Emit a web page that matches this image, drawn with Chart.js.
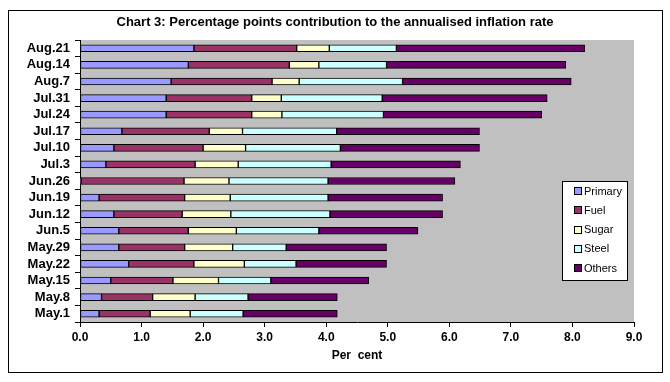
<!DOCTYPE html>
<html>
<head>
<meta charset="utf-8">
<script src="https://cdn.jsdelivr.net/npm/chart.js@4/dist/chart.umd.min.js"></script>
<style>
html, body { margin: 0; padding: 0; background: #fff; }
#wrap { width: 670px; height: 382px; }
</style>
</head>
<body>
<div id="wrap"><canvas id="chart-area-1" width="670" height="382"></canvas></div>
<script>
// weeks, oldest first (drawn from the bottom up)
var weeks = ['May.1', 'May.8', 'May.15', 'May.22', 'May.29', 'Jun.5', 'Jun.12', 'Jun.19', 'Jun.26',
	'Jul.3', 'Jul.10', 'Jul.17', 'Jul.24', 'Jul.31', 'Aug.7', 'Aug.14', 'Aug.21'];

var primary = [0.31, 0.35, 0.50, 0.79, 0.63, 0.63, 0.55, 0.31, 0.02, 0.42, 0.55, 0.68, 1.40, 1.40, 1.48, 1.76, 1.85];
var fuel    = [0.83, 0.83, 1.01, 1.06, 1.07, 1.13, 1.11, 1.39, 1.67, 1.45, 1.45, 1.42, 1.39, 1.39, 1.64, 1.64, 1.67];
var sugar   = [0.65, 0.69, 0.74, 0.82, 0.78, 0.78, 0.79, 0.74, 0.73, 0.70, 0.69, 0.54, 0.49, 0.48, 0.44, 0.48, 0.53];
var steel   = [0.86, 0.86, 0.85, 0.84, 0.87, 1.34, 1.61, 1.59, 1.61, 1.51, 1.54, 1.53, 1.65, 1.64, 1.68, 1.10, 1.09];
var others  = [1.53, 1.45, 1.59, 1.47, 1.63, 1.61, 1.83, 1.86, 2.06, 2.10, 2.26, 2.32, 2.57, 2.68, 2.74, 2.91, 3.06];

var seriesNames = ['Primary', 'Fuel', 'Sugar', 'Steel', 'Others'];
var seriesColors = ['#9999FF', '#993366', '#FFFFCC', '#CCFFFF', '#660066'];
var xTicks = [0, 1, 2, 3, 4, 5, 6, 7, 8, 9];

var narrow = "'Liberation Sans Narrow', 'Arial Narrow', 'Liberation Sans', Arial, sans-serif";
var plain = "'Liberation Sans', Arial, sans-serif";

var frame = {
	id: 'frame',
	beforeDraw: function(chart) {
		var ctx = chart.ctx, a = chart.chartArea;
		ctx.save();
		ctx.fillStyle = '#ffffff';
		ctx.fillRect(0, 0, chart.width, chart.height);
		ctx.fillStyle = '#C0C0C0';
		ctx.fillRect(a.left, a.top, a.right - a.left, a.bottom - a.top);
		ctx.restore();
	},
	afterDraw: function(chart) {
		var ctx = chart.ctx;
		ctx.save();
		// outer border
		ctx.strokeStyle = '#000';
		ctx.lineWidth = 1;
		ctx.strokeRect(8.5, 10.5, 654, 362);
		// title
		ctx.fillStyle = '#000';
		ctx.font = 'bold 13px ' + narrow;
		ctx.textAlign = 'center';
		ctx.textBaseline = 'middle';
		ctx.fillText('Chart 3: Percentage points contribution to the annualised inflation rate', 335, 22);
		// legend
		ctx.fillStyle = '#fff';
		ctx.fillRect(562.5, 181.5, 65, 99);
		ctx.strokeRect(562.5, 181.5, 65, 99);
		ctx.font = '11px ' + plain;
		ctx.textAlign = 'left';
		for (var i = 0; i < seriesNames.length; i++) {
			var y = 191 + i * 19.3;
			ctx.fillStyle = seriesColors[i];
			ctx.fillRect(574.5, Math.round(y) - 3.5, 7, 7);
			ctx.strokeRect(574.5, Math.round(y) - 3.5, 7, 7);
			ctx.fillStyle = '#000';
			ctx.fillText(seriesNames[i], 584, y + 0.5);
		}
		ctx.restore();
	}
};

var series = [primary, fuel, sugar, steel, others];
var datasets = [];
for (var i = 0; i < series.length; i++) {
	datasets.push({
		label: seriesNames[i],
		data: series[i],
		backgroundColor: seriesColors[i],
		borderColor: '#000000',
		borderWidth: 1,
		borderSkipped: false,
		barThickness: 7
	});
}

var ctx = document.getElementById('chart-area-1').getContext('2d');
window.myBar = new Chart(ctx, {
	type: 'bar',
	data: { labels: weeks, datasets: datasets },
	plugins: [frame],
	options: {
		indexAxis: 'y',
		responsive: false,
		animation: false,
		layout: { padding: { top: 40, right: 36, left: 0, bottom: 0 } },
		plugins: {
			legend: { display: false },
			title: { display: false },
			tooltip: { enabled: false }
		},
		scales: {
			x: {
				stacked: true,
				min: 0,
				max: 9,
				afterFit: function(s) { s.height = 60; },
				afterBuildTicks: function(s) { s.ticks = xTicks.map(function(v) { return { value: v }; }); },
				grid: { drawOnChartArea: false, drawTicks: true, tickLength: 5, color: '#000' },
				border: { display: true, color: '#000' },
				ticks: {
					padding: 3,
					color: '#000',
					font: { family: narrow, size: 12, weight: 'bold' },
					callback: function(v) { return Number(v).toFixed(1); }
				},
				title: {
					display: true,
					text: 'Per  cent',
					color: '#000',
					padding: { top: 0, bottom: 19 },
					font: { family: plain, size: 12, weight: 'bold' }
				}
			},
			y: {
				stacked: true,
				reverse: true,
				afterFit: function(s) { s.width = 80; },
				grid: { drawOnChartArea: false, drawTicks: true, tickLength: 5, color: '#000', offset: true },
				border: { display: true, color: '#000' },
				ticks: {
					padding: 5,
					color: '#000',
					autoSkip: false,
					font: { family: plain, size: 13, weight: 'bold' }
				}
			}
		}
	}
});
</script>
</body>
</html>
